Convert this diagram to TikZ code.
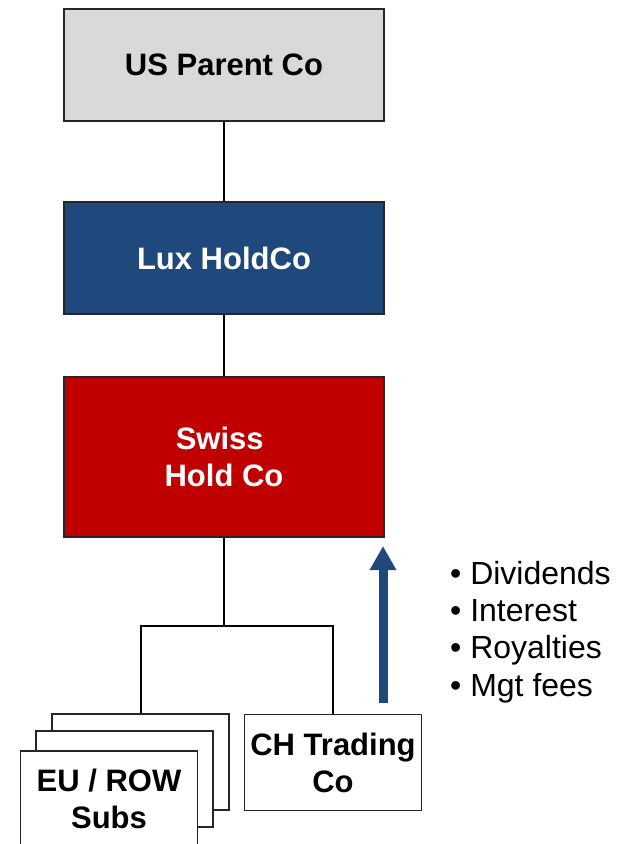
\documentclass[tikz,border=0pt]{standalone}
\usepackage{fontspec}
\setmainfont{Liberation Sans}
\usetikzlibrary{arrows.meta}
\definecolor{usgray}{HTML}{D9D9D9}
\definecolor{luxblue}{HTML}{1F497D}
\definecolor{swissred}{HTML}{C00000}
\definecolor{arrowblue}{HTML}{1F497D}
\tikzset{
  entity/.style={draw=black!85, line width=1.2pt, rectangle, inner sep=0pt, align=center,
    font=\bfseries\fontsize{31}{37}\selectfont},
  bigbox/.style={entity, minimum width=320pt},
  smallbox/.style={entity, fill=white, minimum width=177pt, minimum height=96pt},
  link/.style={draw=black, line width=2pt},
  bullet/.style={anchor=west, inner sep=0pt, font=\fontsize{32}{38}\selectfont}
}
\begin{document}
\begin{tikzpicture}[x=1pt,y=-1pt]
\useasboundingbox (0,0) rectangle (626,844);
% main boxes
\node[bigbox, fill=usgray, minimum height=112pt] (us) at (224,65) {US Parent Co};
\node[bigbox, fill=luxblue, text=white, minimum height=112pt] (lux) at (224,258) {Lux HoldCo};
\node[bigbox, fill=swissred, text=white, minimum height=160pt] (swiss) at (224,457) {Swiss\hphantom{\ }\\Hold Co};
% stacked subs
\node[smallbox] (eub) at (140.5,762) {};
\node[smallbox] (eum) at (124.5,779) {};
\node[smallbox] (euf) at (109,799) {EU / ROW\\Subs};
% CH trading
\node[smallbox] (ch) at (333,762.5) {CH Trading\\Co};
% connectors
\draw[link] (us.south) -- (lux.north);
\draw[link] (lux.south) -- (swiss.north);
\coordinate (j) at (224,626);
\draw[link] (swiss.south) -- (j);
\draw[link] (eub.north) -- (eub.north |- j) -- (ch.north |- j) -- (ch.north);
% flow arrow
\coordinate (abot) at (383,703);
\coordinate (atop) at (383,546);
\draw[draw=arrowblue, line width=9pt, -{Triangle[width=25pt,length=24pt]}, arrowblue] (abot) -- (atop);
% bullet list
\node[bullet] (b1) at (450,573) {• Dividends};
\node[bullet] (b2) at (450,611) {• Interest};
\node[bullet] (b3) at (450,650) {• Royalties};
\node[bullet] (b4) at (450,688) {• Mgt fees};
\end{tikzpicture}
\end{document}
